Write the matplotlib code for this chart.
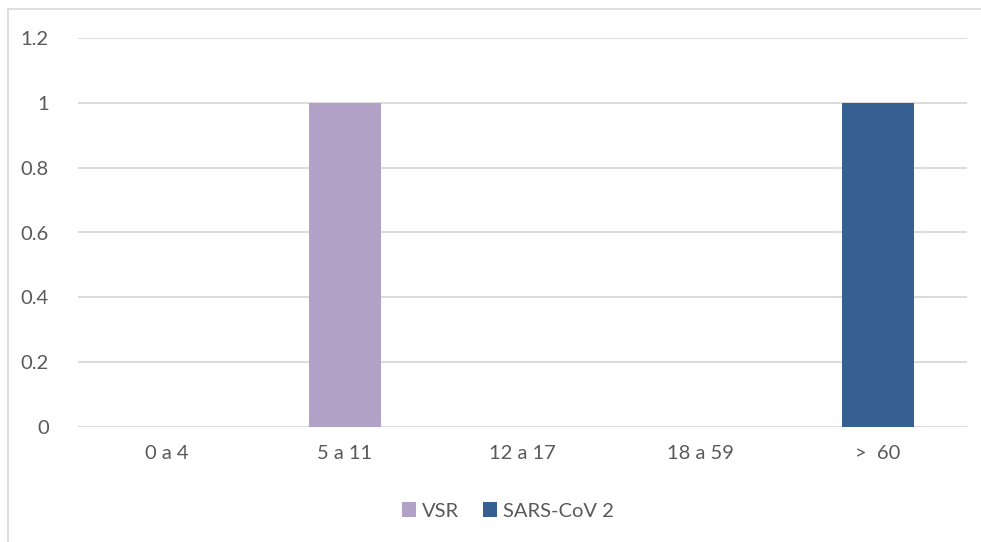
import matplotlib
matplotlib.use("Agg")
import matplotlib.pyplot as plt
from matplotlib.patches import Rectangle
import numpy as np

categories = ["0 a 4", "5 a 11", "12 a 17", "18 a 59", ">  60"]
vsr = [0, 1, 0, 0, 0]
sars = [0, 0, 0, 0, 1]
yticks = [0, 0.2, 0.4, 0.6, 0.8, 1, 1.2]
ytick_labels = ["0", "0.2", "0.4", "0.6", "0.8", "1", "1.2"]

plt.rcParams['font.family'] = ['Lato', 'DejaVu Sans']
W, H = 981, 542
fig = plt.figure(figsize=(W/100, H/100), dpi=100)
ax = fig.add_axes([78/W, 1-427/H, (967-78)/W, (427-38)/H])

x = np.arange(len(categories))
bw = 0.405
ax.bar(x, vsr, bw, color="#B3A2C7", label="VSR", zorder=3)
ax.bar(x, sars, bw, bottom=vsr, color="#376092", label="SARS-CoV 2", zorder=3)

ax.set_xlim(-0.5, len(categories)-0.5)
ax.set_ylim(0, 1.2)
ax.set_yticks(yticks)
ax.set_yticklabels(ytick_labels)
ax.set_xticks(x)
ax.set_xticklabels(categories)
for s in ax.spines.values():
    s.set_visible(False)
ax.grid(axis='y', color="#D9D9D9", linewidth=1.3, zorder=0)
ax.tick_params(axis='both', length=0, colors="#595959", labelsize=14.5)
ax.tick_params(axis='y', pad=21)
ax.tick_params(axis='x', pad=13)

leg = fig.legend(loc='center', bbox_to_anchor=(508/W, 1-511/H), ncol=2, frameon=False,
                 fontsize=14.5, handlelength=0.7, handleheight=0.7, handletextpad=0.3,
                 columnspacing=1.2, labelcolor="#595959")

fig.patches.append(Rectangle((8/W, -0.1), 1.1, 1-9/H+0.1, transform=fig.transFigure,
                             fill=False, edgecolor="#D9D9D9", linewidth=1.2))

fig.savefig("out.png", dpi=100)
